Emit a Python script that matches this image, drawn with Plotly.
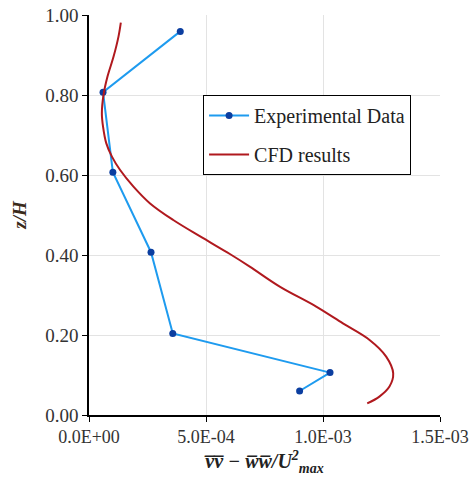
import plotly.graph_objects as go

# Experimental data
exp_x = [3.90e-4, 0.60e-4, 1.02e-4, 2.65e-4, 3.58e-4, 1.03e-3, 0.90e-3]
exp_z = [0.959, 0.807, 0.607, 0.407, 0.204, 0.106, 0.060]

# CFD results
cfd_x = [1.36e-4, 1.26e-4, 1.05e-4, 0.79e-4, 0.62e-4, 0.55e-4, 0.60e-4, 0.74e-4,
         0.98e-4, 1.33e-4, 1.90e-4, 2.61e-4, 3.60e-4, 4.88e-4, 6.02e-4, 6.87e-4,
         8.15e-4, 9.71e-4, 1.085e-3, 1.199e-3, 1.27e-3, 1.30e-3, 1.284e-3, 1.241e-3, 1.189e-3]
cfd_z = [0.981, 0.946, 0.896, 0.846, 0.800, 0.754, 0.721, 0.679,
         0.646, 0.6125, 0.571, 0.529, 0.4875, 0.442, 0.4025, 0.371,
         0.321, 0.271, 0.229, 0.1875, 0.146, 0.104, 0.071, 0.046, 0.029]

x_ticks = [0, 5e-4, 1e-3, 1.5e-3]
x_labels = ["0.0E+00", "5.0E-04", "1.0E-03", "1.5E-03"]
y_ticks = [0, 0.2, 0.4, 0.6, 0.8, 1.0]
y_labels = ["0.00", "0.20", "0.40", "0.60", "0.80", "1.00"]

serif = "Liberation Serif"

fig = go.Figure()
fig.add_trace(go.Scatter(
    x=exp_x, y=exp_z, mode="lines+markers", name="Experimental Data",
    line=dict(color="#1E9BEF", width=2),
    marker=dict(color="#0B3EA0", size=7),
    legendgroup="a"))
fig.add_trace(go.Scatter(
    x=cfd_x, y=cfd_z, mode="lines", name="CFD results",
    line=dict(color="#B0191E", width=2, shape="spline"),
    legendgroup="b"))

fig.update_layout(
    width=471, height=486,
    margin=dict(l=89, r=31, t=15, b=71),
    paper_bgcolor="white", plot_bgcolor="white",
    font=dict(family=serif, size=18, color="#333"),
    showlegend=True,
    legend=dict(x=0.325, y=0.8, xanchor="left", yanchor="top",
                bgcolor="white", bordercolor="black", borderwidth=1,
                font=dict(family=serif, size=20, color="#222"),
                traceorder="grouped", tracegroupgap=10,
                itemwidth=40),
    xaxis=dict(range=[0, 1.5e-3], tickvals=x_ticks, ticktext=x_labels,
               showgrid=True, gridcolor="#E3E3E3", gridwidth=1,
               showline=True, linecolor="black", linewidth=1.5,
               ticks="outside", ticklen=5, tickcolor="black",
               zeroline=False, automargin=False,
               tickfont=dict(family=serif, size=18, color="#333"),
               title=dict(text="<b><i>v\u0305v\u0305 \u2212 w\u0305w\u0305/U<sup>2</sup><sub>max</sub></i></b>",
                          font=dict(family=serif, size=20, color="#222"), standoff=8)),
    yaxis=dict(range=[0, 1.0], tickvals=y_ticks, ticktext=y_labels,
               showgrid=True, gridcolor="#E3E3E3", gridwidth=1,
               showline=True, linecolor="black", linewidth=1.5,
               ticks="outside", ticklen=5, tickcolor="black",
               zeroline=False, automargin=False,
               tickfont=dict(family=serif, size=19, color="#333"),
               title=dict(text="<b><i>z/H</i></b>",
                          font=dict(family=serif, size=19, color="#3a2a1a"), standoff=14)),
)

fig.write_html("out.html")
